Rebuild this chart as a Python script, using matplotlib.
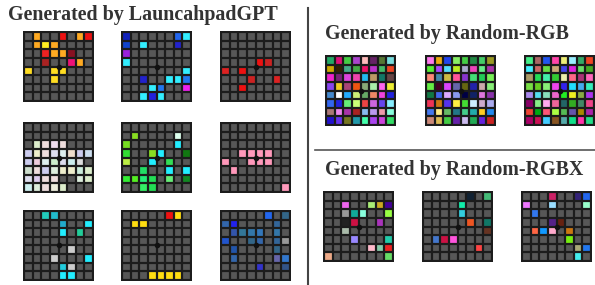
import numpy as np
import matplotlib
matplotlib.use('Agg')
import matplotlib.pyplot as plt
from matplotlib.colors import to_rgb
from matplotlib.lines import Line2D

# each grid: 8 rows of 8 cells, '-' = unlit pad, otherwise short hex colour
gpt_1 = ["- fa2 - - e11 - fa2 e11",
         "- fa2 fe2 fa2 - - - -",
         "- - e22 fa2 fa2 812 - -",
         "- - a22 - - e17 fa2 -",
         "fd2 - - fd2 fd2 - - -",
         "- - - fd2 - - - -",
         "- - - - - - - -",
         "- - - - - - - -"]
gpt_2 = ["12b - - - - - 26e 3ef",
         "14c - 3ef - - - 22c -",
         "92d - - - - - - -",
         "3ef - - - - - - -",
         "- - - - - - - 3ef",
         "- - 22c - - 3ef 3ef 27e",
         "- - - 3ef 27e - - e2e",
         "- - 3ef 22d 3ef - - -"]
gpt_3 = ["- - - - - - - -",
         "- - - - - - - -",
         "- - - - - - - -",
         "- - - - e11 c22 - -",
         "d22 - e11 - - - - -",
         "- - - c22 - - d22 -",
         "- - e11 - - - - -",
         "- - - - - - - -"]
gpt_4 = ["- - - - - - - -",
         "- - - - - - - -",
         "- dec edd ede edd - - -",
         "cce eec edd dde dee edc cce cde",
         "cce ecd dee cec dde cee ddd -",
         "cdc edd cce ded eec eec ced dec",
         "dde dce edd edd - - ded dec",
         "cee ded edd eed dec - - -"]
gpt_5 = ["- - - - - - - -",
         "- 8d2 - - - - dfe -",
         "7d2 - - - - - 2ef -",
         "3d3 - - 8d2 2ef - - 171",
         "be4 - - 2ef - 3d5 - -",
         "- - 2d6 - - 2ef - 2ef",
         "3e3 5e2 2e7 2d5 - 6e7 - 182",
         "- - 3e6 2d5 - - - -"]
gpt_6 = ["- - - - - - - -",
         "- - - - - - - -",
         "- - - - - - - -",
         "- - f9b f9b f9b f9b - -",
         "f9b - - f9b f9b f9b - -",
         "- f9b - - - - - -",
         "- - - - - - - -",
         "- - - - - - - f9b"]
gpt_7 = ["- - 2cb 2bc - - - -",
         "- - - - 2ac - - 2ef",
         "- - - - 2ef - 2c9 -",
         "- - - - - - - -",
         "- - - - - ccc - -",
         "- - - ccc - - - 2ef",
         "- - - - 2cd ccc - -",
         "- - - - 2ef 2ef - -"]
gpt_8 = ["- - - - - e11 fd1 -",
         "- fd1 fd1 - - - - -",
         "- - - - - - - -",
         "- - - - - - - -",
         "- - - - - - - -",
         "- - - - - - - -",
         "- - - - - - - -",
         "- - - fd1 fd1 fd1 fd1 -"]
gpt_9 = ["- - - - - 26e - 368",
         "36a 22e - - - - 369 -",
         "- 35a 379 37a 37b - 37a -",
         "25c - - 368 36a - 369 999",
         "- 25a - - - - 368 -",
         "- 36a - - - - 66a 37c",
         "- - - - 33c - - 358",
         "- - - - - - - -"]

rgb_1 = ["2a6 d17 4c4 a4c fbb 626 573 7dd",
         "ca0 320 4a8 4a4 e16 b3c 4b6 e42",
         "e2c 727 d4d e4a 2be b96 176 644",
         "84e ec2 a47 e51 8a7 aea f6e ee3",
         "48c fff 2af ce7 6a6 e86 e4d 22d",
         "36e 22d 6e7 cf7 e44 c6d 64e 8ef",
         "a77 e8e a3a a22 8be b9e e9a 8fd",
         "21c 63e 772 29a 4fa a4e c4d 3d6"]
rgb_2 = ["f7e ea1 24e 8e6 4c4 284 4c6 992",
         "5e3 a4f 5df be2 aac e4b 6e8 a3a",
         "f87 48a cb4 f59 83c 4d7 2c5 7e5",
         "6e4 402 d4f 66a 661 22a caa 8e7",
         "174 46e daf 89e 004 126 d7d 83a",
         "e35 c71 53e fe4 4d3 cef cac aae",
         "47e fe8 6b6 278 4c8 2aa fc2 28e",
         "c87 db5 4c4 62a cbe 2a5 62d c22"]
rgb_3 = ["4e8 a66 25e f4a ee7 9ef 3a6 e42",
         "4ef c66 6d4 ca7 44e d2d 6d6 4a2",
         "a96 2d5 4ea 3c3 eea f68 a37 f6b",
         "7d4 6c2 8e7 e4e 32e 2df 4ae 3eb",
         "a8e 5de 8db e6c 2e2 ee2 8a4 a3e",
         "806 8e8 fae e69 266 3a2 486 e48",
         "e43 0a1 f57 af4 5b5 65a a80 a2a",
         "a06 c15 4cf 852 5aa 1d8 f3a 2d8"]

rgbx_1 = ["- - - - - - - -",
          "- - e6e - - ae7 ca2 409",
          "- - 999 1a9 8fd - - 9f4",
          "- - 222 c14 - - a3b -",
          "- - aba - - - - -",
          "- - - 98f - - - 2ca",
          "- - - - - fbc 8ca e22",
          "ea8 - - - - - - 6d6"]
rgbx_2 = ["- - - - - 123 - 4b7",
          "- - - - 1ea - - -",
          "- - - - 3cd - - -",
          "- - - - - e52 - 176",
          "- - - - - - - 632",
          "- 47c c14 f5d - - - -",
          "- - - - - - f44 -",
          "- - - - - - - -"]
rgbx_3 = ["- - - c26 - - 327 26e",
          "e7f - - 9df - - - 9fc",
          "- 37e - - - - - -",
          "- - - 528 621 - - -",
          "- f64 19f fac - c71 - -",
          "- - - - - 7e1 - -",
          "- - - - - - aa7 27e",
          "- - - - - - 4ee -"]

OFF = '#575757'
GAP = '#1c1c1c'
W, H = 595, 285

fig = plt.figure(figsize=(W / 100, H / 100), dpi=100)


def parse(rows):
    arr = np.zeros((8, 8, 3))
    for i, row in enumerate(rows):
        for j, tok in enumerate(row.split()):
            c = OFF if tok == '-' else '#' + ''.join(ch * 2 for ch in tok)
            arr[i, j] = to_rgb(c)
    return arr


def draw_pad(x0, y0, x1, y1, rows):
    ax = fig.add_axes([x0 / W, 1 - y1 / H, (x1 - x0) / W, (y1 - y0) / H])
    ax.imshow(parse(rows), extent=(0, 8, 8, 0), interpolation='nearest')
    for k in range(9):
        ax.axhline(k, color=GAP, lw=1.6)
        ax.axvline(k, color=GAP, lw=1.6)
    ax.plot(4, 4, marker='o', ms=3, color='#111111')
    ax.set_xlim(-0.12, 8.12)
    ax.set_ylim(8.12, -0.12)
    ax.axis('off')


# left block: 3x3 LaunchpadGPT pads
gpt = [gpt_1, gpt_2, gpt_3, gpt_4, gpt_5, gpt_6, gpt_7, gpt_8, gpt_9]
xs = [23, 121, 220]
ys = [31, 122, 210]
for n, rows in enumerate(gpt):
    x, y = xs[n % 3], ys[n // 3]
    draw_pad(x, y, x + 71, y + 71, rows)

# right block
for x, rows in zip([325, 425, 524], [rgb_1, rgb_2, rgb_3]):
    draw_pad(x, 55, x + 71, 126, rows)
for x, rows in zip([323, 422, 521], [rgbx_1, rgbx_2, rgbx_3]):
    draw_pad(x, 191, x + 71, 262, rows)

title_kw = dict(fontfamily='Liberation Serif', fontweight='bold', fontsize=14.4,
                color='#333333', va='center', ha='left')
fig.text(8 / W, 1 - 15 / H, 'Generated by LauncahpadGPT', **title_kw)
fig.text(325 / W, 1 - 34 / H, 'Generated by Random-RGB', **title_kw)
fig.text(325 / W, 1 - 170 / H, 'Generated by Random-RGBX', **title_kw)

fig.add_artist(Line2D([308 / W, 308 / W], [1 - 8 / H, 0], color='#444444', lw=1.5))
fig.add_artist(Line2D([315 / W, 1], [1 - 150 / H, 1 - 150 / H], color='#555555', lw=1.2))

fig.savefig('out.png', dpi=100)
